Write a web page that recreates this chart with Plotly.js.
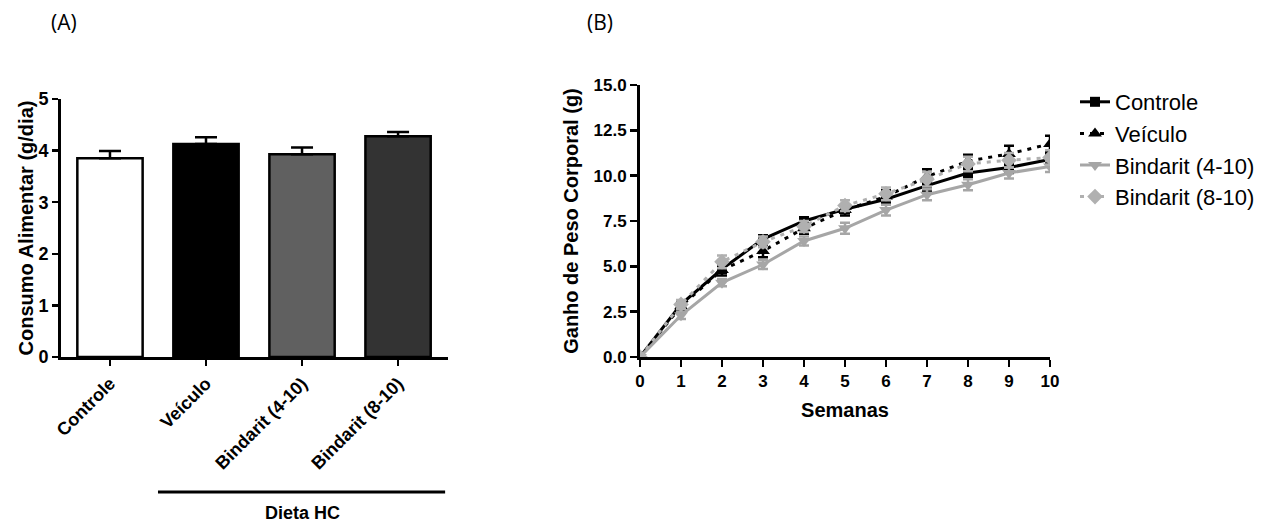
<!DOCTYPE html>
<html>
<head>
<meta charset="utf-8">
<script src="https://cdn.plot.ly/plotly-3.0.1.min.js"></script>
<style>html,body{margin:0;padding:0;background:#fff;} #chart{width:1270px;height:522px;}</style>
</head>
<body>
<div id="chart"></div>
<script>
// ---------- Panel A data ----------
var groupsA = ["Controle", "Veículo", "Bindarit (4-10)", "Bindarit (8-10)"];
var consumo = [3.85, 4.13, 3.93, 4.28];
var consumoErr = [0.14, 0.13, 0.13, 0.08];
var barColors = ["#ffffff", "#000000", "#606060", "#333333"];
var ticksA = [0, 1, 2, 3, 4, 5];

// ---------- Panel B data ----------
var semanas = [0, 1, 2, 3, 4, 5, 6, 7, 8, 9, 10];
var controle = [0, 2.9, 4.85, 6.5, 7.5, 8.15, 8.7, 9.45, 10.15, 10.45, 10.9];
var controleErr = [0, 0.15, 0.2, 0.2, 0.2, 0.2, 0.3, 0.3, 0.3, 0.3, 0.3];
var veiculo = [0, 2.8, 4.8, 5.85, 7.1, 8.1, 8.85, 9.95, 10.8, 11.2, 11.75];
var veiculoErr = [0, 0.2, 0.3, 0.35, 0.3, 0.3, 0.35, 0.4, 0.35, 0.45, 0.45];
var bind410 = [0, 2.3, 4.1, 5.1, 6.4, 7.1, 8.1, 8.95, 9.5, 10.15, 10.5];
var bind410Err = [0, 0.2, 0.2, 0.25, 0.25, 0.3, 0.3, 0.3, 0.3, 0.3, 0.3];
var bind810 = [0, 2.9, 5.25, 6.35, 7.2, 8.35, 9.0, 9.8, 10.65, 10.85, 11.0];
var bind810Err = [0, 0.25, 0.35, 0.3, 0.3, 0.3, 0.35, 0.4, 0.4, 0.4, 0.4];
var seriesNames = ["Controle", "Veículo", "Bindarit (4-10)", "Bindarit (8-10)"];

var FONT = "Liberation Sans, Arial, Helvetica, sans-serif";
var W = 1270, H = 522;
function px(x) { return x / W; }
function py(y) { return 1 - y / H; }

var traces = [];
traces.push({
  type: "bar", x: groupsA, y: consumo, xaxis: "x", yaxis: "y",
  width: 0.68, showlegend: false,
  marker: { color: barColors, line: { color: "#000", width: 2.5 } },
  error_y: { type: "data", array: consumoErr, arrayminus: consumo.map(function(){return 0;}), symmetric: false,
             color: "#000", thickness: 2.5, width: 11 }
});

function lineTrace(name, y, err, color, dash, symbol, msize) {
  return {
    type: "scatter", mode: "lines+markers", name: name, x: semanas, y: y,
    xaxis: "x2", yaxis: "y2",
    line: { color: color, width: 3, dash: dash },
    marker: { color: color, symbol: symbol, size: msize },
    error_y: { type: "data", array: err, color: color, thickness: 2.5, width: 5 }
  };
}
traces.push(lineTrace(seriesNames[0], controle, controleErr, "#000000", "solid", "square", 10));
traces.push(lineTrace(seriesNames[1], veiculo, veiculoErr, "#000000", "4px,6px", "triangle-up", 12));
traces.push(lineTrace(seriesNames[2], bind410, bind410Err, "#a6a6a6", "solid", "triangle-down", 12));
traces.push(lineTrace(seriesNames[3], bind810, bind810Err, "#b0b0b0", "4px,6px", "diamond", 12));

var tickA = { family: FONT, size: 18, color: "#000", weight: 700 };
var tickB = { family: FONT, size: 17, color: "#000", weight: 700 };
var axFontTitle = { family: FONT, size: 20, color: "#000", weight: 700 };

var layout = {
  width: W, height: H,
  margin: { l: 0, r: 0, t: 0, b: 0 },
  paper_bgcolor: "#fff", plot_bgcolor: "rgba(0,0,0,0)",
  font: { family: FONT, color: "#000" },
  showlegend: true,
  xaxis: {
    domain: [px(61), px(448)], range: [-0.51, 3.52], type: "category",
    showline: true, linecolor: "#000", linewidth: 3, showgrid: false, zeroline: false,
    ticks: "outside", ticklen: 6, tickwidth: 2.5, tickcolor: "#000",
    tickangle: -45, tickfont: tickA, fixedrange: true
  },
  yaxis: {
    domain: [py(357), py(99)], range: [0, 5], tickvals: ticksA,
    showline: true, linecolor: "#000", linewidth: 3, showgrid: false, zeroline: false,
    ticks: "outside", ticklen: 6, tickwidth: 2.5, tickcolor: "#000",
    tickfont: tickA,
    title: { text: "Consumo Alimentar (g/dia)", font: axFontTitle, standoff: 0 }
  },
  xaxis2: {
    domain: [px(640), px(1050)], range: [0, 10], anchor: "y2", dtick: 1,
    showline: true, linecolor: "#000", linewidth: 3, showgrid: false, zeroline: false,
    ticks: "outside", ticklen: 7, tickwidth: 2.5, tickcolor: "#000",
    tickfont: tickB,
    title: { text: "Semanas", font: axFontTitle, standoff: 13 }
  },
  yaxis2: {
    domain: [py(357), py(85)], range: [0, 15], anchor: "x2", dtick: 2.5, tickformat: ".1f",
    showline: true, linecolor: "#000", linewidth: 3, showgrid: false, zeroline: false,
    ticks: "outside", ticklen: 7, tickwidth: 2.5, tickcolor: "#000",
    tickfont: tickB,
    title: { text: "Ganho de Peso Corporal (g)", font: axFontTitle, standoff: 10 }
  },
  legend: {
    x: px(1075), y: py(81), xanchor: "left", yanchor: "top",
    font: { family: FONT, size: 22, color: "#000" },
    bgcolor: "rgba(0,0,0,0)", tracegroupgap: 0, itemwidth: 30
  },
  shapes: [
    { type: "line", xref: "x", yref: "paper", x0: 0.5, x1: 3.49, y0: py(492), y1: py(492),
      line: { color: "#000", width: 3 } }
  ],
  annotations: [
    { text: "Dieta HC", xref: "x", yref: "paper", x: 2, y: py(513), yanchor: "middle", showarrow: false,
      font: { family: FONT, size: 18, color: "#000", weight: 700 } },
    { text: "(A)", xref: "paper", yref: "paper", x: px(64), y: py(22), xanchor: "center", yanchor: "middle", showarrow: false,
      font: { family: "Open Sans, Lato, sans-serif", size: 21, color: "#000" } },
    { text: "(B)", xref: "paper", yref: "paper", x: px(600), y: py(22), xanchor: "center", yanchor: "middle", showarrow: false,
      font: { family: "Open Sans, Lato, sans-serif", size: 21, color: "#000" } }
  ]
};

Plotly.newPlot("chart", traces, layout, { displayModeBar: false, staticPlot: true });
</script>
</body>
</html>
